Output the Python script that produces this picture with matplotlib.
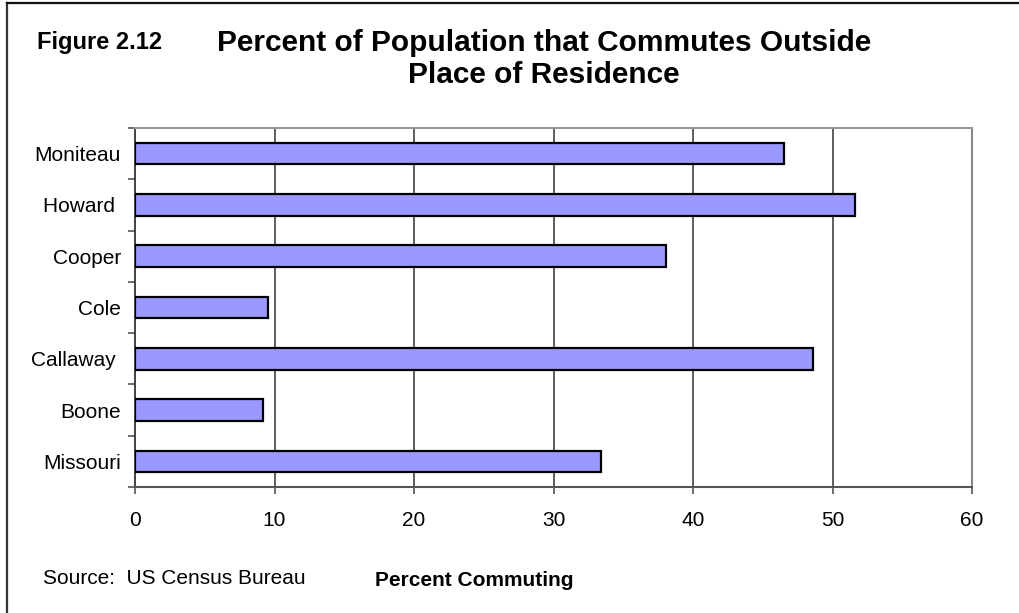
import matplotlib
matplotlib.use("Agg")
import matplotlib.pyplot as plt
from matplotlib.lines import Line2D

plt.rcParams['font.family'] = ['Liberation Sans', 'DejaVu Sans']

# Data (bottom to top)
categories = ["Missouri", "Boone", "Callaway ", "Cole", "Cooper", "Howard ", "Moniteau"]
values = [33.4, 9.2, 48.6, 9.5, 38.1, 51.6, 46.5]
xticks = [0, 10, 20, 30, 40, 50, 60]

W, H = 1019, 613
fig = plt.figure(figsize=(W / 100, H / 100), dpi=100)
fig.patch.set_facecolor('white')

ax = fig.add_axes([135 / W, 1 - 487 / H, (972 - 135) / W, (487 - 128) / H])

ypos = list(range(len(categories)))
ax.barh(ypos, values, height=0.42, color='#9999FF', edgecolor='black',
        linewidth=1.6, zorder=3)

ax.set_xlim(0, 60)
ax.set_ylim(-0.5, len(categories) - 0.5)
ax.set_xticks(xticks)
ax.set_xticklabels([str(t) for t in xticks], fontsize=15)

# y ticks at category boundaries, labels at centers
ax.set_yticks([y - 0.5 for y in ypos] + [len(categories) - 0.5])
ax.set_yticklabels([])
ax.set_yticks(ypos, minor=True)
ax.set_yticklabels(categories, minor=True, fontsize=15)
ax.tick_params(axis='y', which='minor', length=0, pad=10)
ax.tick_params(axis='y', which='major', length=5, width=1.2, color='#555555')
ax.tick_params(axis='x', length=5, width=1.2, color='#555555', pad=12)

for x in xticks[1:-1]:
    ax.axvline(x, color='#333333', linewidth=1.1, zorder=1)

ax.spines['left'].set_color('#333333')
ax.spines['left'].set_linewidth(1.3)
ax.spines['bottom'].set_color('#555555')
ax.spines['bottom'].set_linewidth(1.5)
ax.spines['top'].set_color('#999999')
ax.spines['top'].set_linewidth(1.5)
ax.spines['right'].set_color('#888888')
ax.spines['right'].set_linewidth(1.5)

# Titles
fig.text(37 / W, 1 - 43 / H, "Figure 2.12", fontsize=17, fontweight='bold',
         ha='left', va='center')
fig.text(544 / W, 1 - 43 / H, "Percent of Population that Commutes Outside",
         fontsize=21.5, fontweight='bold', ha='center', va='center')
fig.text(544 / W, 1 - 75 / H, "Place of Residence",
         fontsize=21.5, fontweight='bold', ha='center', va='center')

# Footer texts
fig.text(43 / W, 1 - 578 / H, "Source:  US Census Bureau", fontsize=15,
         ha='left', va='center')
fig.text(474.5 / W, 1 - 581 / H, "Percent Commuting", fontsize=15,
         fontweight='bold', ha='center', va='center')

# Figure border (top and left visible)
fig.add_artist(Line2D([7 / W, 7 / W], [0, 1 - 3 / H], transform=fig.transFigure,
                      color='#333333', linewidth=1.6))
fig.add_artist(Line2D([7 / W, 1], [1 - 3 / H, 1 - 3 / H], transform=fig.transFigure,
                      color='#111111', linewidth=1.6))

fig.savefig("out.png", dpi=100, facecolor='white')
